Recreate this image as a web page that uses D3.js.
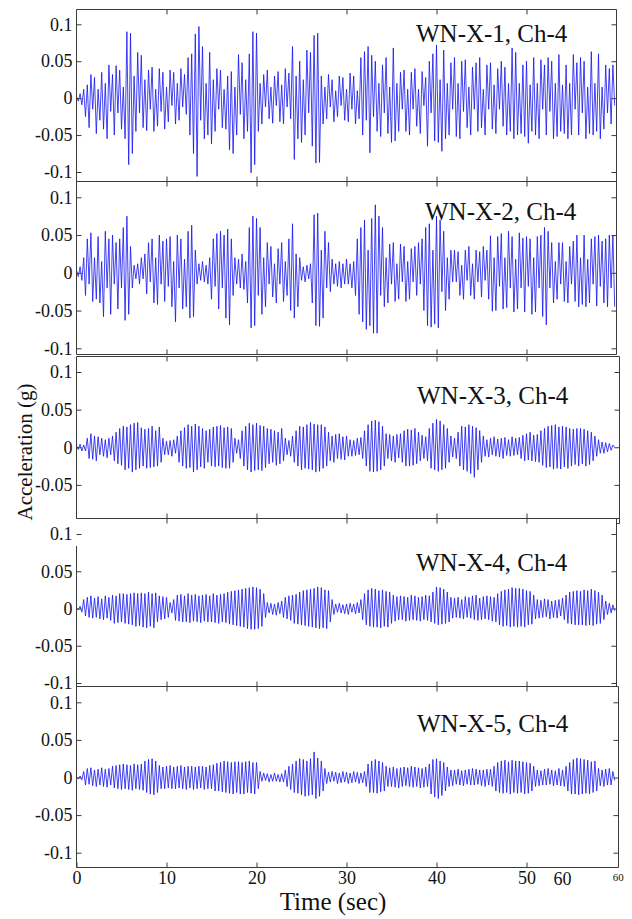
<!DOCTYPE html>
<html>
<head>
<meta charset="utf-8">
<script src="https://cdn.jsdelivr.net/npm/d3@7"></script>
<style>
  body { margin: 0; background: #fff; }
  svg { display: block; font-family: "Liberation Serif", "Times New Roman", serif; }
  .frame { stroke: #3a3a3a; stroke-width: 1; fill: none; }
  .tk line { stroke: #3a3a3a; }
  .tk path { display: none; }
</style>
</head>
<body>
<svg id="chart" width="632" height="919"></svg>
<script>
// acceleration in milli-g, 5 values per second from t = 0
var wn1 = [
  2,-4,6,-9,12, -25,18,-40,32,-15, 28,-48,12,-30,35, -42,20,-55,45,-18, 32,-50,44,-20,38,
  -42,15,-55,90,-90, 88,-75,30,-45,62, -20,58,-40,25,-44, 38,-15,42,-45,12, -38,40,-18,35,-42,
  15,-32,38,-10,35, -35,20,-30,40,-12, 32,-22,55,-50,60, -75,87,-106,97,-30, 70,-55,20,-50,62,
  -62,25,-45,40,-15, 38,-40,12,-42,30, -70,36,-75,15,-50, 59,-22,48,-55,25, -45,60,-101,90,-90,
  88,-45,20,-35,32, -12,38,-28,15,-34, 30,-10,36,-32,18, -35,40,-12,34,-28, 70,-83,30,-55,50,
  -60,25,-50,65,-20, 62,-65,85,-88,88, -87,30,-35,15,-28, 32,-12,25,-32,10, -25,30,-10,28,-30,
  12,-32,34,-15,30, -35,10,-28,55,-50, 63,-30,70,-74,58, -25,50,-45,20,-52, 45,-20,55,-48,15,
  -60,68,-58,20,-45, 35,-15,38,-45,12, -50,35,-15,40,-38, 12,-48,36,-10,28, -65,50,-20,60,-58,
  72,-60,25,-72,65, -55,20,-50,48,-15, 55,-52,20,-55,50, -18,52,-40,15,-50, 42,-15,48,-45,55,
  -40,12,-50,45,-15, 48,-42,18,-48,40, -15,50,-38,42,-50, 20,-45,68,-55,62, -50,20,-48,45,-52,
  50,-61,18,-45,55, -50,20,-55,52,-15, 45,-50,55,-18,50, -55,20,-52,59,-45, 18,-48,45,-55,20,
  -50,59,-15,48,-50, 55,-20,50,-55,15, -48,63,-50,20,-45, 60,-55,15,-42,45, -20,40,-35,45,-10
];
var wn2 = [
  3,-5,8,-10,20, -30,45,-15,53,-38, 20,-35,48,-40,15, -58,55,-20,45,-55, 50,-15,40,-48,45,
  -20,60,-63,75,-55, 35,-20,10,-8,12, -15,20,-8,25,-28, 40,-12,45,-40,20, -42,50,-15,42,-38,
  45,-18,48,-45,15, -65,50,-20,45,-48, 18,-45,55,-60,63, -58,30,-15,12,-10, 15,-12,10,-15,20,
  -35,45,-18,52,-48, 55,-20,50,-60,58, -69,45,-30,20,-15, 18,-20,25,-22,15, -40,60,-73,75,-70,
  72,-30,60,-55,20, -45,40,-15,35,-32, 12,-40,32,-15,40, -38,15,-30,45,-50, 65,-60,25,-45,20,
  -10,8,-12,10,-8, 12,-40,77,-70,79, -71,30,-60,55,-20, 40,-25,18,-15,12, -18,15,-20,12,-15,
  18,-15,12,-20,15, -30,45,-55,60,-65, 70,-75,30,-70,72, -80,90,-80,75,-30, 60,-45,20,-40,38,
  -15,40,-38,12,-35, 38,-12,35,-38,15, -35,32,-12,35,-30, 40,-15,45,-50,60, -70,65,-72,30,-68,
  75,-73,70,-25,55, -50,20,-35,30,-12, 30,-12,28,-30,10, -35,30,-10,35,-30, 12,-35,30,-12,28,
  -32,35,-10,30,-35, 49,-51,20,-50,48, -18,52,-48,20,-46, 55,-20,48,-52,18, -48,53,-20,46,-52,
  48,-18,45,-55,20, -52,48,-20,50,-58, 60,-69,55,-20,40, -40,15,-35,40,-15, 40,-38,15,-40,35,
  -15,42,-38,50,-45, 20,-42,50,-45,18, -40,45,-15,48,-44, 50,-18,42,-40,45, -45,50,-20,50,-45
];
var wn3 = [
  2,-3,4,-5,3, -5,12,-15,18,-16, 15,-18,14,-10,12, -12,10,-14,12,-10, 15,-18,20,-22,25,
  -24,28,-30,27,-28, 30,-33,32,-30,33, -28,26,-25,24,-28, 25,-27,28,-26,22, -25,27,-20,12,-10,
  8,-10,9,-12,10, -8,15,-20,22,-25, 26,-28,30,-27,28, -33,31,-30,28,-26, 25,-28,22,-20,24,
  -25,27,-26,28,-25, 29,-27,26,-28,27, -28,25,-20,12,-8, 10,-15,22,-25,28, -30,32,-33,30,-31,
  32,-30,29,-31,28, -27,25,-22,24,-20, 22,-24,20,-22,25, -18,12,-10,9,-12, 15,-20,22,-25,28,
  -30,27,-28,30,-29, 33,-30,31,-33,30, -32,30,-28,27,-25, 20,-18,15,-20,17, -15,18,-16,14,-17,
  15,-12,10,-12,9, -11,12,-10,13,-15, 22,-25,30,-32,35, -33,36,-32,34,-30, 28,-25,18,-15,17,
  -18,15,-20,17,-14, 18,-20,22,-25,24, -25,23,-24,25,-22, 20,-18,16,-15,14, -18,25,-28,32,-30,
  37,-32,35,-30,30, -28,25,-20,15,-13, 12,-15,20,-25,28, -30,27,-32,30,-35, 28,-40,26,-30,22,
  -20,15,-12,10,-13, 12,-10,14,-12,11, -13,12,-15,13,-11, 10,-12,14,-11,12, -10,13,-15,16,-18,
  18,-17,20,-18,16, -19,17,-20,22,-24, 25,-27,28,-26,29, -29,30,-28,27,-29, 28,-26,27,-28,25,
  -25,24,-23,25,-25, 25,-22,24,-25,22, -23,20,-18,15,-12, 10,-8,7,-8,6, -6,5,-4,3,0
];
var wn4 = [
  1,-2,3,-5,12, -10,15,-12,17,-13, 14,-12,16,-14,13, -15,17,-13,15,-16, 18,-20,17,-19,20,
  -18,20,-20,19,-21, 20,-22,21,-24,20, -23,21,-25,20,-26, 22,-24,20,-26,21, -18,17,-15,16,-14,
  15,-12,8,-6,12, -16,18,-17,19,-18, 17,-18,20,-19,18, -17,19,-18,17,-19, 18,-17,19,-18,17,
  -18,20,-19,18,-20, 19,-18,20,-19,22, -21,23,-22,24,-23, 25,-24,26,-25,27, -27,28,-28,29,-28,
  28,-27,26,-24,20, -12,8,-6,7,-8, 6,-9,8,-7,10, -12,15,-14,17,-16, 18,-20,19,-21,22,
  -22,24,-23,25,-24, 26,-25,27,-26,29, -27,28,-26,25,-27, 24,-18,12,-8,6, -5,7,-6,5,-7,
  6,-8,7,-5,6, -7,8,-6,12,-15, 20,-22,25,-24,27, -25,26,-25,24,-26, 25,-24,23,-25,22,
  -20,18,-17,16,-15, 17,-15,16,-17,15, -16,18,-15,17,-16, 15,-17,16,-15,18, -16,17,-18,22,-20,
  29,-22,28,-21,26, -20,22,-18,15,-13, 14,-12,15,-13,12, -14,16,-12,15,-13, 17,-15,18,-16,14,
  -15,16,-14,17,-15, 16,-17,15,-18,20, -22,23,-24,25,-23, 26,-25,28,-24,27, -25,27,-24,26,-25,
  24,-22,23,-21,18, -14,12,-13,11,-12, 13,-11,12,-14,10, -12,11,-13,12,-10, 14,-15,18,-20,22,
  -21,23,-22,24,-22, 23,-22,25,-23,24, -22,26,-23,24,-21, 22,-20,18,-15,10, -8,7,-6,5,-3
];
var wn5 = [
  1,-2,2,-3,8, -10,12,-9,13,-11, 10,-12,11,-10,13, -12,11,-13,12,-10, 15,-14,16,-15,17,
  -16,18,-15,17,-16, 16,-17,18,-15,17, -16,18,-17,22,-20, 24,-22,25,-23,22, -20,16,-15,14,-15,
  15,-14,16,-15,14, -15,15,-14,16,-15, 14,-16,15,-14,15, -16,14,-15,15,-14, 15,-16,14,-15,16,
  -15,17,-18,19,-18, 20,-19,22,-20,21, -21,20,-22,21,-20, 21,-22,20,-22,21, -20,22,-21,20,-22,
  20,-15,8,-5,6, -4,5,-6,4,-5, 6,-5,4,-6,5, -6,10,-12,15,-16, 18,-20,22,-21,25,
  -23,24,-25,22,-24, 25,-23,34,-28,26, -25,22,-18,12,-8, 7,-6,8,-5,7, -8,6,-7,8,-6,
  7,-8,6,-7,8, -6,7,-8,6,-7, 8,-12,18,-20,22, -20,24,-21,22,-19, 20,-18,15,-12,13,
  -12,14,-13,12,-14, 13,-12,14,-11,13, -12,15,-13,14,-12, 13,-14,12,-13,14, -12,18,-22,24,-26,
  25,-28,22,-24,20, -18,14,-12,10,-11, 10,-9,11,-10,9, -11,10,-9,11,-10, 12,-10,11,-9,10,
  -11,10,-12,11,-10, 11,-12,15,-18,20, -20,22,-21,23,-20, 21,-22,23,-20,22, -21,22,-20,21,-22,
  20,-21,19,-18,15, -12,10,-11,9,-10, 11,-10,12,-9,10, -11,9,-10,12,-11, 10,-12,15,-18,20,
  -22,24,-22,26,-23, 25,-22,24,-21,23, -22,21,-20,22,-18, 12,-11,10,-12,11, -10,12,-10,8,-4
];
var samplesPerSec = 5;

var titles = ["WN-X-1, Ch-4", "WN-X-2, Ch-4", "WN-X-3, Ch-4", "WN-X-4, Ch-4", "WN-X-5, Ch-4"];
var yTickValues = [-0.1, -0.05, 0, 0.05, 0.1];
var yTickLabels = ["-0.1", "-0.05", "0", "0.05", "0.1"];
var xTickValues = [0, 10, 20, 30, 40, 50];
var xTickLabels = ["0", "10", "20", "30", "40", "50"];
var strayLabels = [{t: 54, text: "60"}, {t: 60.2, text: "60"}];

var serif = "'Liberation Serif', 'Times New Roman', serif";
var svg = d3.select("#chart");
var left = 76.5;

var x = d3.scaleLinear().domain([0, 60]).range([76.5, 616.5]);

// pixel layout of the five pasted-together plots
var panels = [
  {data: wn1, top: 9.5, bottom: 181.5, right: 616.5, rightBottom: 181.5, leftTop: 9.5, yHi: 24.3, yLo: 172, tx: 416, ty: 42},
  {data: wn2, top: 181.5, bottom: 354.5, right: 616.5, rightBottom: 354.5, leftTop: 181.5, yHi: 197.3, yLo: 348.3, tx: 425, ty: 219.5},
  {data: wn3, top: 356.5, bottom: 518.5, right: 619.5, rightBottom: 523.5, leftTop: 356.5, yHi: 372, yLo: 522.5, tx: 417, ty: 403.5},
  {data: wn4, top: 518.5, bottom: 686.5, right: 616.5, rightBottom: 686.5, leftTop: 546, yHi: 534, yLo: 683, tx: 416, ty: 571},
  {data: wn5, top: 686.5, bottom: 867.5, right: 618.5, rightBottom: 867.5, leftTop: 686.5, yHi: 702.3, yLo: 852.7, tx: 417, ty: 731.5}
];

function styleTicks(sel) {
  sel.attr("font-family", serif).attr("font-size", 18);
  sel.selectAll("text").style("font-family", serif).style("font-size", "18px").attr("fill", "#111");
}

panels.forEach(function(p, k) {
  var y = d3.scaleLinear().domain([-0.1, 0.1]).range([p.yLo, p.yHi]);
  var g = svg.append("g");

  var yt = yTickValues.filter(function(v) { return y(v) > p.top && y(v) < p.bottom; });

  // signal
  var line = d3.line()
    .x(function(d, i) { return x(i / samplesPerSec); })
    .y(function(d) { return y(d / 1000); });
  g.append("path")
    .attr("d", line(p.data))
    .attr("fill", "none")
    .attr("stroke", "#1414f0")
    .attr("stroke-width", 0.8);

  // box
  g.append("line").attr("class", "frame").attr("x1", left).attr("x2", p.right).attr("y1", p.top).attr("y2", p.top);
  g.append("line").attr("class", "frame").attr("x1", left).attr("x2", p.right).attr("y1", p.bottom).attr("y2", p.bottom);
  g.append("line").attr("class", "frame").attr("x1", left).attr("x2", left).attr("y1", p.leftTop).attr("y2", p.bottom);
  g.append("line").attr("class", "frame").attr("x1", p.right).attr("x2", p.right).attr("y1", p.top).attr("y2", p.rightBottom);
  if (p.rightBottom > p.bottom) {
    g.append("line").attr("class", "frame").attr("x1", 616.5).attr("x2", p.right).attr("y1", p.rightBottom).attr("y2", p.rightBottom);
  }

  // inward ticks, MATLAB style
  g.append("g").attr("class", "tk")
    .attr("transform", "translate(" + left + ",0)")
    .call(d3.axisLeft(y).tickValues(yt).tickSizeInner(-5).tickSizeOuter(0).tickPadding(4)
      .tickFormat(function(v) { return yTickLabels[yTickValues.indexOf(v)]; }))
    .call(styleTicks);
  g.append("g").attr("class", "tk")
    .attr("transform", "translate(" + p.right + ",0)")
    .call(d3.axisRight(y).tickValues(yt).tickSizeInner(-5).tickSizeOuter(0).tickFormat(""));
  g.append("g").attr("class", "tk")
    .attr("transform", "translate(0," + p.top + ")")
    .call(d3.axisTop(x).tickValues(xTickValues.slice(1)).tickSizeInner(-5).tickSizeOuter(0).tickFormat(""));
  var bottomAxis = d3.axisBottom(x).tickSizeInner(-5).tickSizeOuter(0).tickPadding(4);
  if (k == 4) {
    bottomAxis.tickValues(xTickValues).tickFormat(function(v) { return xTickLabels[xTickValues.indexOf(v)]; });
  } else {
    bottomAxis.tickValues(xTickValues.slice(1)).tickFormat("");
  }
  g.append("g").attr("class", "tk")
    .attr("transform", "translate(0," + p.bottom + ")")
    .call(bottomAxis)
    .call(styleTicks);

  // title
  g.append("text")
    .text(titles[k])
    .attr("x", p.tx)
    .attr("y", p.ty)
    .style("font-family", serif)
    .style("font-size", "25px")
    .style("fill", "#111");
});

// the odd extra "60" labels under the last plot
svg.append("text").text(strayLabels[0].text)
  .attr("x", x(strayLabels[0].t)).attr("y", 885)
  .attr("text-anchor", "middle")
  .style("font-family", serif)
  .style("font-size", "18px").style("fill", "#111");
svg.append("text").text(strayLabels[1].text)
  .attr("x", x(strayLabels[1].t)).attr("y", 881)
  .attr("text-anchor", "middle")
  .style("font-family", serif)
  .style("font-size", "11px").style("fill", "#111");

// axis titles
svg.append("text")
  .text("Time (sec)")
  .attr("x", 333)
  .attr("y", 910)
  .attr("text-anchor", "middle")
  .style("font-family", serif)
  .style("font-size", "25px")
  .style("fill", "#111");

svg.append("text")
  .text("Acceleration (g)")
  .attr("transform", "translate(32,452) rotate(-90)")
  .attr("text-anchor", "middle")
  .style("font-family", serif)
  .style("font-size", "21px")
  .style("fill", "#111");
</script>
</body>
</html>
